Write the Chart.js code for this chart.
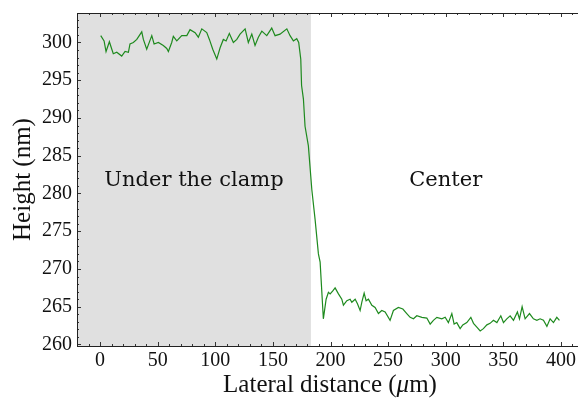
<!DOCTYPE html>
<html>
<head>
<meta charset="utf-8">
<script src="https://cdn.jsdelivr.net/npm/chart.js@4"></script>
<style>
  html, body { margin: 0; padding: 0; background: #fff; overflow: hidden; }
  #wrap { width: 586px; height: 399px; }
</style>
</head>
<body>
<div id="wrap"><canvas id="profile" width="586" height="399"></canvas></div>
<script>
/* profile data */
const distance = [
  0.6, 3.5, 5.2, 8.1, 10.2, 11.5, 14.5, 18.8, 21.7, 24.6, 26, 28.9, 31.9, 36.2, 37.6, 40.5,
  44.9, 46.9, 50.6, 54.9, 57.9, 59.3, 62.2, 63.6, 66.6, 70.9, 75.3, 78.1, 82.5, 85.3, 88.3,
  92.6, 94.9, 97.8, 101.3, 104.2, 107, 109.4, 112.2, 115.7, 118.7, 121.5, 125.9, 128.7, 131.7,
  134.5, 137.4, 140.4, 144.7, 149, 151.9, 156.2, 162.1, 164.9, 167.8, 170.7, 172.4, 174.2,
  174.9, 176.5, 177.9, 180.8, 183.8, 186.6, 189.5, 191, 193.8, 196.2, 198.2, 199.7, 202, 204,
  206.9, 209.8, 211.2, 214.2, 217, 218.5, 221.4, 223.4, 225.7, 227.2, 229.2, 230.9, 232.9,
  235.9, 238.7, 241.6, 244.5, 247.4, 251.7, 254.6, 258.9, 262.8, 266.2, 269.1, 272, 274.9,
  279.3, 283.6, 286.5, 289.3, 292.3, 296.6, 299.5, 302.3, 305.3, 307.3, 309.6, 312.5, 314.8,
  318.3, 321.8, 324.1, 327, 329.9, 332.7, 335.7, 338.5, 341.4, 344.4, 347.8, 350.1, 353,
  355.9, 358.8, 362.2, 364, 366.3, 368.9, 372.7, 376.1, 379.1, 381.9, 384.8, 387.8, 390.6,
  393.5, 396.4, 398.7
];
const height = [
  300.9, 300.2, 298.8, 300.1, 299.1, 298.5, 298.7, 298.2, 298.8, 298.7, 299.8, 300, 300.4, 301.4, 300.4, 299.1,
  300.9, 299.8, 300, 299.6, 299.2, 298.8, 300, 300.8, 300.2, 300.9, 300.9, 301.7, 301.3, 300.7, 301.8,
  301.3, 300.4, 299.1, 297.8, 299.3, 300.4, 300.2, 301.2, 300, 300.4, 301.1, 301.8, 300, 301.1,
  299.6, 300.7, 301.5, 300.9, 301.9, 300.9, 301.1, 301.8, 300.9, 300.2, 300.5, 300, 297.8,
  294.3, 292.5, 288.9, 286.3, 280.5, 276.6, 272, 270.9, 263.4, 266, 266.9, 266.7, 267.1, 267.5,
  266.7, 266, 265.2, 265.8, 266, 265.6, 266, 265.4, 264.5, 265.6, 266.8, 265.8, 266,
  265.2, 264.9, 264.1, 264.5, 264.3, 263.2, 264.5, 264.9, 264.7, 264.1, 263.6, 263.4, 263.8,
  263.6, 263.5, 262.7, 263.2, 263.6, 263.4, 263.6, 262.9, 264.1, 262.7, 262.9, 262.1, 262.6,
  262.9, 263.6, 262.8, 262.3, 261.8, 262.1, 262.6, 262.8, 263.2, 262.9, 263.8, 262.9, 263.4,
  263.8, 263.2, 264.3, 263.4, 265, 263.4, 264.1, 263.4, 263.2, 263.4, 263.2, 262.4, 263.4,
  262.9, 263.6, 263.2
];
const xTicks = [0, 50, 100, 150, 200, 250, 300, 350, 400];
const yTicks = [260, 265, 270, 275, 280, 285, 290, 295, 300];
const clampEnd = 183;
const regionLabels = ['Under the clamp', 'Center'];
const regionLabelX = [81.5, 300];
const regionLabelY = 281.65;

const points = distance.map(function(d, i) { return { x: d, y: height[i] }; });

/* shading, labels, inward ticks and frame */
const decor = {
  id: 'decor',
  beforeDatasetsDraw(chart) {
    const c = chart.ctx, a = chart.chartArea, x = chart.scales.x;
    c.save();
    c.fillStyle = '#e0e0e0';
    c.fillRect(a.left, a.top, x.getPixelForValue(clampEnd) - a.left, a.bottom - a.top);
    c.fillStyle = '#111';
    c.font = '21px "DejaVu Serif"';
    c.textAlign = 'center';
    c.textBaseline = 'middle';
    regionLabels.forEach(function(t, i) {
      c.fillText(t, x.getPixelForValue(regionLabelX[i]), chart.scales.y.getPixelForValue(regionLabelY));
    });
    c.restore();
  },
  afterDraw(chart) {
    const c = chart.ctx, a = chart.chartArea, x = chart.scales.x, y = chart.scales.y;
    c.save();
    c.strokeStyle = '#333';
    c.lineWidth = 1;
    c.beginPath();
    for (let v = -20; v <= 420; v += 10) {
      const p = Math.round(x.getPixelForValue(v)) + 0.5;
      const len = (v % 50 === 0) ? 4 : 2;
      c.moveTo(p, a.bottom); c.lineTo(p, a.bottom - len);
      c.moveTo(p, a.top); c.lineTo(p, a.top + len);
    }
    for (let v = 260; v <= 303; v += 1) {
      const p = Math.round(y.getPixelForValue(v)) + 0.5;
      const len = (v % 5 === 0) ? 4 : 2;
      c.moveTo(a.left, p); c.lineTo(a.left + len, p);
      c.moveTo(a.right, p); c.lineTo(a.right - len, p);
    }
    c.stroke();
    c.strokeStyle = '#222';
    c.strokeRect(Math.round(a.left) + 0.5, Math.round(a.top) + 0.5,
      Math.round(a.right - a.left), Math.round(a.bottom - a.top));

    /* x title with italic mu */
    const parts = [['Lateral distance (', ''], ['\u03bc', 'italic '], ['m)', '']];
    c.fillStyle = '#111';
    c.textBaseline = 'middle';
    c.textAlign = 'left';
    let total = 0;
    parts.forEach(function(p) { c.font = p[1] + '25px "Liberation Serif"'; total += c.measureText(p[0]).width; });
    let px = 330 - total / 2;
    parts.forEach(function(p) {
      c.font = p[1] + '25px "Liberation Serif"';
      c.fillText(p[0], px, 385);
      px += c.measureText(p[0]).width;
    });
    c.restore();
  }
};

function noEdgePadding(s) {
  s.paddingTop = 0; s.paddingBottom = 0; s.paddingLeft = 0; s.paddingRight = 0;
}

const ctx = document.getElementById('profile').getContext('2d');
const chart = new Chart(ctx, {
  type: 'scatter',
  data: {
    datasets: [{
      data: points,
      showLine: true,
      borderColor: '#1e8a1e',
      borderWidth: 1.2,
      pointRadius: 0,
      tension: 0,
    }],
  },
  options: {
    responsive: false,
    animation: false,
    layout: { padding: { top: 13, right: 2, left: 0, bottom: 0 } },
    plugins: { legend: { display: false }, tooltip: { enabled: false } },
    scales: {
      x: {
        type: 'linear',
        min: -20,
        max: 420,
        afterBuildTicks: function(s) { s.ticks = xTicks.map(function(v) { return { value: v }; }); },
        afterFit: function(s) { s.height = 53; noEdgePadding(s); },
        grid: { display: false, drawTicks: false },
        border: { display: false },
        ticks: { color: '#111', font: { family: '"Liberation Serif"', size: 20 }, padding: 3, maxRotation: 0 },
        title: { display: false },
      },
      y: {
        type: 'linear',
        min: 259.8,
        max: 303.9,
        afterBuildTicks: function(s) { s.ticks = yTicks.map(function(v) { return { value: v }; }); },
        afterFit: function(s) { s.width = 77; noEdgePadding(s); },
        grid: { display: false, drawTicks: false },
        border: { display: false },
        ticks: { color: '#111', font: { family: '"Liberation Serif"', size: 20 }, padding: 5 },
        title: {
          display: true,
          text: 'Height (nm)',
          color: '#111',
          font: { family: '"Liberation Serif"', size: 25 },
          padding: { top: 8, bottom: 0 },
        },
      },
    },
  },
  plugins: [decor],
});
</script>
</body>
</html>
